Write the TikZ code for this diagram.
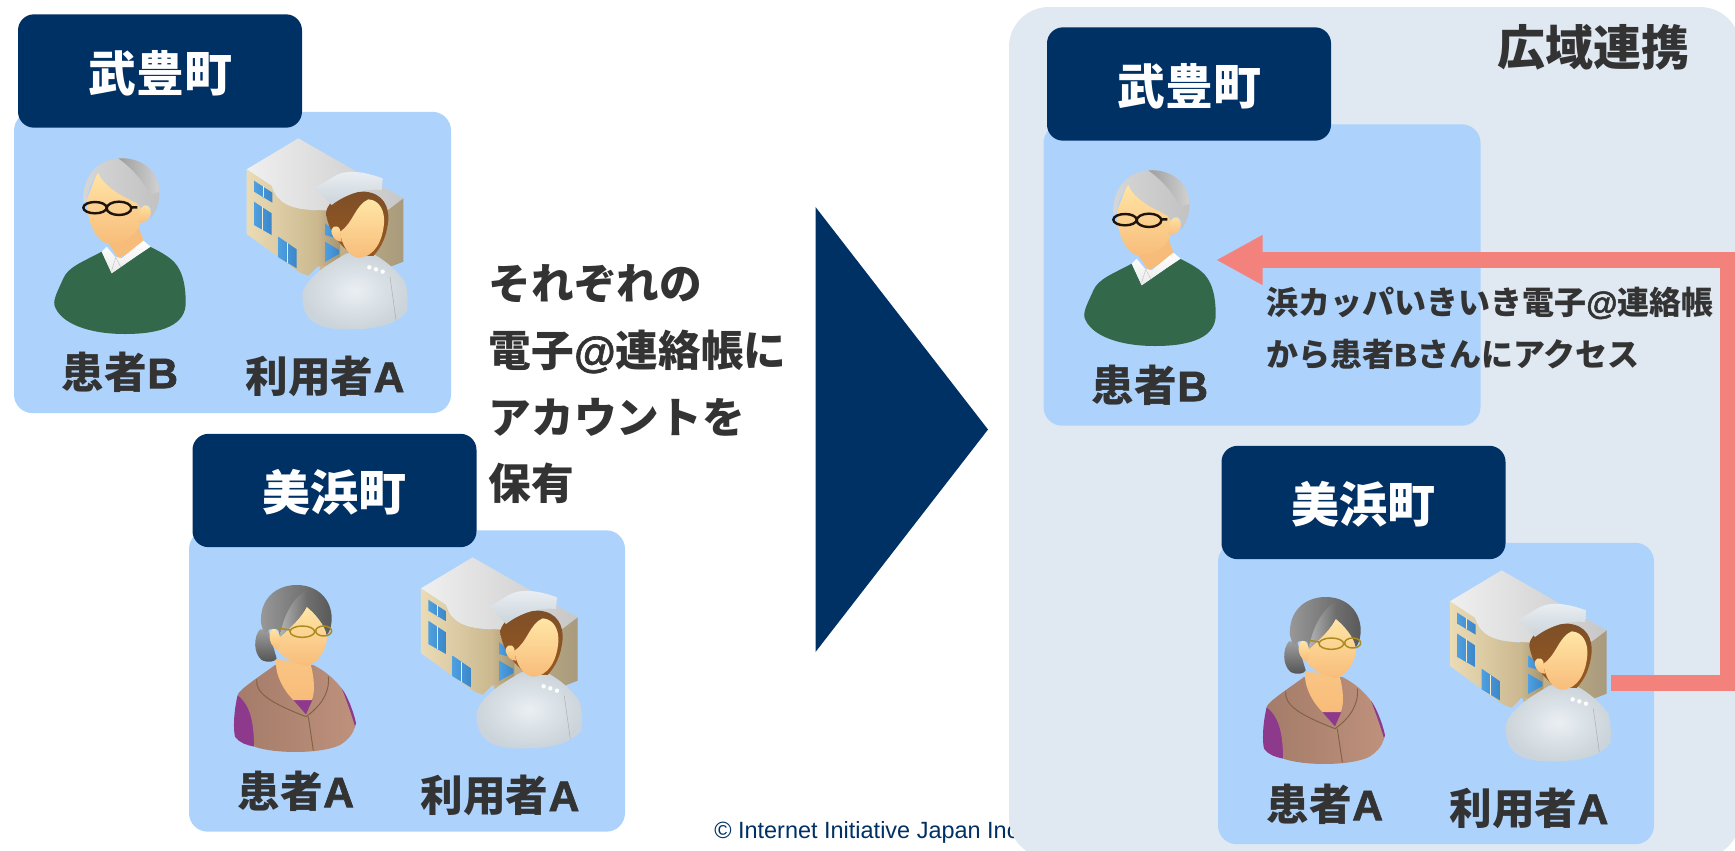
\documentclass[tikz,border=0pt]{standalone}
\usepackage{fontspec}
\setmainfont{Noto Sans CJK JP}
\newfontfamily\latinsans{Liberation Sans}
\newfontfamily\latinheavy{Liberation Sans}[BoldFeatures={FakeBold=1.6}]
\newcommand{\lat}[1]{{\latinheavy\bfseries #1}}
\usetikzlibrary{arrows.meta}
\definecolor{navy}{HTML}{003165}
\definecolor{panelblue}{HTML}{ADD3FD}
\definecolor{widepanel}{HTML}{E0E8F2}
\definecolor{ink}{HTML}{333333}
\definecolor{salmon}{HTML}{F4827C}
\definecolor{skinlight}{HTML}{FFE6A6}
\definecolor{skindark}{HTML}{F8BC7A}
\definecolor{sweater}{HTML}{33694A}
\definecolor{cardiganD}{HTML}{A47C69}
\definecolor{cardiganL}{HTML}{BE917C}
\definecolor{plum}{HTML}{8E3A8C}
\definecolor{wallL}{HTML}{EBDCB6}
\definecolor{wallD}{HTML}{CBB88F}
\definecolor{wallS}{HTML}{A89A7C}
\definecolor{glassL}{HTML}{4FA0E0}
\definecolor{glassD}{HTML}{3A86C8}
\definecolor{uniformL}{HTML}{EAEFF3}
\definecolor{uniformD}{HTML}{CBD4DA}
\definecolor{nursehair}{HTML}{7E4F28}
\tikzset{
  panelbox/.style={fill=panelblue,rounded corners=14pt,minimum width=#1*0.75pt,minimum height=226pt,inner sep=0pt},
  townhead/.style={fill=navy,text=white,rounded corners=12pt,minimum width=213pt,minimum height=85pt,inner sep=0pt,
    text height=34pt,text depth=4pt,font=\fontsize{36}{36}\selectfont\bfseries},
  who/.style={text=ink,inner sep=0pt,font=\fontsize{32}{32}\selectfont\bfseries},
  note/.style={text=ink,inner sep=0pt,align=left},
  flow/.style={draw=salmon,line width=12pt,line join=miter,-{Triangle[length=35pt,width=35pt]}},
  pics/oldman/.style={code={
    \begin{scope}[x=0.25pt,y=-0.25pt]
      \fill[sweater] (155,305) .. controls (100,335) and (55,350) .. (40,385) .. controls (25,420) and (10,445) .. (13,465)
        .. controls (30,520) and (115,552) .. (225,552) .. controls (335,552) and (410,525) .. (407,455)
        .. controls (407,400) and (395,350) .. (360,325) .. controls (340,310) and (320,300) .. (300,290) -- (185,370) -- cycle;
      \fill[skindark] (165,265) -- (205,325) -- (285,282) -- (262,225) -- cycle;
      \shade[top color=white,bottom color=black!8] (155,305) -- (185,370) -- (260,318) -- (302,290) -- (280,272)
        -- (215,325) -- (195,320) -- (170,290) -- cycle;
      \draw[black!22,line width=0.4pt] (197,322) -- (185,362) (197,322) -- (212,350);
      \shade[top color=skinlight,bottom color=skindark] (110,150) .. controls (112,210) and (130,260) .. (165,278)
        .. controls (200,285) and (240,270) .. (262,240) .. controls (275,225) and (268,200) .. (272,175)
        -- (262,155) -- (145,60) -- cycle;
      \shade[top color=skinlight,bottom color=skindark] (272,175) .. controls (285,155) and (305,170) .. (303,190)
        .. controls (295,215) and (275,225) .. (263,215) -- cycle;
      \shade[left color=black!16,right color=black!24] (100,158) .. controls (95,90) and (135,30) .. (205,25)
        .. controls (280,20) and (328,70) .. (328,125) .. controls (330,160) and (315,190) .. (302,205)
        -- (303,175) .. controls (295,160) and (285,160) .. (272,175) -- (262,160)
        .. controls (220,140) and (160,110) .. (145,68) .. controls (125,95) and (112,125) .. (110,155) -- cycle;
      \shade[left color=black!38,right color=black!18] (205,25) .. controls (280,20) and (328,70) .. (328,125)
        -- (300,135) .. controls (280,90) and (240,50) .. (205,25) -- cycle;
      \draw[black!85!brown,line width=1.8pt] (135,173) ellipse [x radius=35,y radius=17]
        (207,175) ellipse [x radius=37,y radius=20] (170,170) -- (172,170) (244,172) -- (262,172);
    \end{scope}}},
  pics/oldwoman/.style={code={
    \begin{scope}[x=0.25pt,y=-0.25pt]
      \shade[top color=black!38,bottom color=black!68] (105,148) .. controls (85,170) and (85,220) .. (110,240)
        .. controls (130,250) and (150,245) .. (155,235) -- (130,150) -- cycle;
      \fill[plum] (38,345) .. controls (25,400) and (25,450) .. (30,470) .. controls (45,490) and (65,495) .. (88,500) -- (85,380) -- cycle;
      \fill[plum] (350,325) .. controls (370,350) and (390,410) .. (393,430) -- (388,445) -- (350,385) -- cycle;
      \shade[left color=cardiganD,right color=cardiganL] (150,255) .. controls (110,285) and (40,330) .. (38,345)
        .. controls (80,380) and (85,430) .. (88,500) .. controls (150,522) and (290,522) .. (345,495)
        .. controls (370,480) and (385,460) .. (390,440) .. controls (375,390) and (360,350) .. (350,325)
        .. controls (330,300) and (305,275) .. (265,255) -- cycle;
      \fill[plum] (205,360) -- (262,360) -- (243,403) -- cycle;
      \draw[brown!55!black!85,line width=0.7pt] (95,298) .. controls (90,340) and (140,370) .. (243,410)
        .. controls (285,380) and (315,340) .. (310,290) (250,410) -- (265,512);
      \shade[top color=skindark!80!skinlight,bottom color=skindark] (153,240) .. controls (150,290) and (180,335) .. (205,360)
        -- (260,360) .. controls (270,340) and (270,300) .. (255,245) -- cycle;
      \shade[top color=skinlight,bottom color=skindark] (245,78) .. controls (270,100) and (300,135) .. (305,165)
        .. controls (310,195) and (285,250) .. (245,258) .. controls (210,250) and (170,235) .. (155,205)
        -- (160,170) -- cycle;
      \shade[top color=skinlight,bottom color=skindark] (150,145) .. controls (130,145) and (125,190) .. (155,208)
        .. controls (165,205) and (170,180) .. (165,165) -- cycle;
      \shade[left color=black!40,right color=black!65] (108,130) .. controls (103,60) and (150,15) .. (215,15)
        .. controls (280,15) and (320,60) .. (320,115) .. controls (320,140) and (312,160) .. (305,165)
        .. controls (300,135) and (270,100) .. (245,80) .. controls (230,110) and (200,140) .. (165,170)
        -- (160,150) .. controls (140,140) and (125,150) .. (118,165) -- cycle;
      \shade[left color=black!30,right color=black!60] (165,168) .. controls (175,110) and (200,60) .. (240,32)
        .. controls (255,40) and (255,60) .. (245,80) .. controls (230,110) and (200,140) .. (165,170) -- cycle;
      \draw[black!30!brown!70!yellow,line width=1.1pt] (232,155) ellipse [x radius=37,y radius=17]
        (296,153) ellipse [x radius=24,y radius=15] (195,150) -- (165,145);
    \end{scope}}},
  pics/nursesite/.style={code={
    \begin{scope}[x=0.25pt,y=-0.25pt]
      \shade[left color=wallD,right color=wallS] (230,238) -- (490,205) -- (490,395) -- (400,430) -- (240,420) -- cycle;
      \shade[left color=black!6,right color=black!22] (20,118) -- (175,25) -- (490,205) -- (430,250) -- (230,240)
        .. controls (150,240) and (110,220) .. (95,168) -- cycle;
      \shade[left color=wallL,right color=wallD] (20,118) -- (95,168) .. controls (110,220) and (150,238) .. (232,242)
        -- (232,410) -- (205,437) -- (180,428) -- (20,312) -- cycle;
      \shade[left color=wallD,right color=wallD!80!black] (232,242) -- (300,242) -- (300,400) -- (232,410) -- cycle;
      \shade[left color=glassL,right color=glassD] (42,152) -- (97,188) -- (97,218) -- (42,185) -- cycle;
      \shade[left color=glassL,right color=glassD] (42,215) -- (95,250) -- (95,315) -- (42,285) -- cycle;
      \shade[left color=glassL,right color=glassD] (115,320) -- (170,358) -- (170,415) -- (115,382) -- cycle;
      \shade[left color=glassL,right color=glassD] (255,280) -- (290,308) -- (290,325) -- (255,315) -- cycle;
      \shade[left color=glassL,right color=glassD] (255,335) -- (297,360) -- (297,372) -- (255,396) -- cycle;
      \draw[wallL!60!white,line width=0.5pt] (69,168) -- (69,202) (68,232) -- (68,300) (142,338) -- (142,398);
      \shade[inner color=uniformL,outer color=uniformD] (187,490) .. controls (200,445) and (250,410) .. (320,370)
        -- (385,365) .. controls (430,385) and (470,420) .. (495,455) .. controls (503,480) and (505,520) .. (500,545)
        .. controls (460,590) and (400,598) .. (320,598) .. controls (220,598) and (185,565) .. (187,490) -- cycle;
      \draw[black!32,line width=0.35pt] (450,440) -- (468,570);
      \fill[white] (388,412) circle[radius=6.5] (408,418) circle[radius=6.5] (428,425) circle[radius=6.5];
      \shade[top color=nursehair,bottom color=nursehair!80!orange] (258,250) .. controls (262,205) and (320,185) .. (375,185)
        .. controls (430,190) and (447,230) .. (445,270) .. controls (440,320) and (425,350) .. (400,378)
        -- (340,375) .. controls (295,345) and (265,300) .. (258,250) -- cycle;
      \shade[top color=skinlight,bottom color=skindark] (385,208) .. controls (420,210) and (435,245) .. (432,280)
        .. controls (428,330) and (405,382) .. (355,383) .. controls (325,378) and (305,345) .. (300,305)
        .. controls (340,280) and (345,225) .. (385,208) -- cycle;
      \shade[top color=skinlight,bottom color=skindark] (300,298) .. controls (290,280) and (270,290) .. (275,310)
        .. controls (280,325) and (290,335) .. (305,335) -- cycle;
      \shade[top color=uniformL,bottom color=uniformD] (225,172) .. controls (262,155) and (280,135) .. (310,128)
        .. controls (350,120) and (395,133) .. (428,145) -- (425,180) .. controls (375,175) and (320,190) .. (275,225) -- cycle;
    \end{scope}}}
}
\begin{document}
\begin{tikzpicture}[x=0.75pt,y=-0.75pt]
\clip (0,0) rectangle (1735,850);
\fill[white] (0,0) rectangle (1735,850);

\node[anchor=west,text=navy,inner sep=0pt,font=\latinsans\fontsize{17.6}{20}\selectfont] (copy) at (714,832) {© Internet Initiative Japan Inc.};
\fill[widepanel,rounded corners=30pt] (1009,7) rectangle (1740,858);
\fill[navy] (815.5,207) -- (988,429.5) -- (815.5,652) -- cycle;

% left side
\node[panelbox=437] (pa) at (232.5,262.5) {};
\node[townhead] (ha) at (160,71) {武豊町};
\node[panelbox=436] (pb) at (407,681) {};
\node[townhead] (hb) at (334.5,490.5) {美浜町};
\pic at (50,150) {oldman};
\pic at (240,130) {nursesite};
\pic at (225,580) {oldwoman};
\pic at (414.3,549) {nursesite};
\node[who] (la) at (120,372) {患者\lat{B}};
\node[who] (lb) at (325,376) {利用者\lat{A}};
\node[who] (lc) at (296,791) {患者\lat{A}};
\node[who] (ld) at (500,795) {利用者\lat{A}};
\node[note,anchor=west,font=\fontsize{32}{50}\selectfont\bfseries] (say) at (488.5,384.5) {それぞれの\\電子\lat{@}連絡帳に\\アカウントを\\保有};

% right side
\node[panelbox=437] (pc) at (1262,275) {};
\node[townhead] (hc) at (1189,84) {武豊町};
\node[panelbox=436] (pd) at (1436,693.5) {};
\node[townhead] (hd) at (1363.5,502.5) {美浜町};
\pic at (1080,162) {oldman};
\pic at (1254,592) {oldwoman};
\pic at (1443.3,562) {nursesite};
\node[who] (le) at (1150,385) {患者\lat{B}};
\node[who] (lf) at (1325,804) {患者\lat{A}};
\node[who] (lg) at (1529,808) {利用者\lat{A}};
\node[text=ink,inner sep=0pt,font=\fontsize{36}{36}\selectfont\bfseries] (wide) at (1593.5,47) {広域連携};

\coordinate (from) at (1611,683);
\coordinate (turnA) at (1728,683);
\coordinate (turnB) at (1728,260);
\coordinate (to) at (1216,260);
\draw[flow] (from) -- (turnA) -- (turnB) -- (to);
\node[note,anchor=west,font=\fontsize{24}{39}\selectfont\bfseries] (access) at (1266,328) {浜カッパいきいき電子\lat{@}連絡帳\\から患者\lat{B}さんにアクセス};
\end{tikzpicture}
\end{document}
